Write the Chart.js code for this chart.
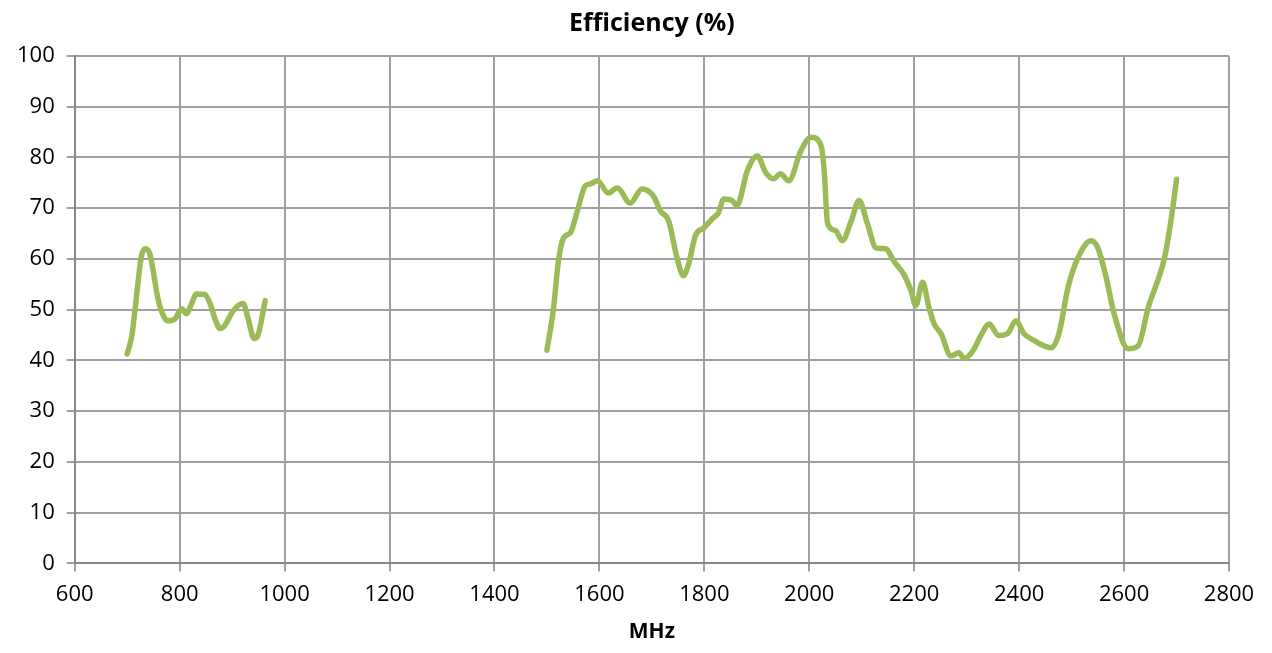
<!DOCTYPE html>
<html>
<head>
<meta charset="utf-8">
<script src="https://cdn.jsdelivr.net/npm/chart.js@4"></script>
<style>
  html, body { margin: 0; padding: 0; background: #fff; }
  #wrap { width: 1272px; height: 653px; }
</style>
</head>
<body>
<div id="wrap"><canvas id="myChart" width="1272" height="653"></canvas></div>
<script>
// frequency (MHz) and efficiency (%), null = gap between bands
var freqMHz = [
  700, 709, 717, 727, 735, 743, 749, 757, 765, 777, 791, 804, 813, 822, 832, 848, 858, 868, 877, 886, 902, 921, 930, 942, 949, 963,
  1200,
  1500, 1512, 1522, 1532, 1545, 1558, 1573, 1583, 1596, 1617, 1634, 1659, 1681, 1703, 1716, 1732, 1748, 1760, 1770, 1783, 1799,
  1815, 1827, 1837, 1853, 1862, 1882, 1901, 1917, 1932, 1945, 1961, 1984, 2003, 2022, 2028, 2035, 2050, 2063, 2080, 2095, 2111,
  2127, 2146, 2161, 2180, 2194, 2203, 2216, 2228, 2238, 2251, 2270, 2285, 2295, 2312, 2327, 2343, 2361, 2378, 2394, 2409, 2429,
  2447, 2461, 2476, 2493, 2512, 2537, 2550, 2566, 2581, 2608, 2627, 2646, 2677, 2690, 2700
];
var efficiency = [
  41.3, 45, 52, 60.5, 62, 61, 58, 53, 49.8, 47.8, 48.2, 50.2, 49.2, 51, 53.1, 53, 51.2, 48, 46.3, 46.9, 49.8, 51.2, 48.4, 44.3, 44.9, 51.8,
  null,
  42, 49.8, 59.6, 64.2, 65.2, 69.5, 74.4, 74.8, 75.4, 73, 74, 71, 73.8, 72.4, 69.5, 67.5, 60.2, 56.7, 59, 64.6, 66.1,
  67.9, 69.1, 71.8, 71.5, 70.5, 77.4, 80.3, 77, 75.8, 76.8, 75.4, 81.3, 84, 82.5, 78, 67, 65.6, 63.6, 67.5, 71.5, 66.9,
  62.2, 62, 59.6, 57, 53.7, 50.8, 55.4, 50.5, 47.2, 45.3, 40.9, 41.5, 40.4, 41.9, 44.9, 47.2, 44.9, 45.3, 47.8, 45.3, 43.9,
  42.9, 42.5, 45.3, 54.3, 60.2, 63.6, 62.2, 56.3, 49.2, 42.3, 42.9, 50.4, 60.2, 68, 75.7
];
var xMin = 600, xMax = 2800, xStep = 200;
var yMin = 0, yMax = 100, yStep = 10;

var points = [];
for (var i = 0; i < freqMHz.length; i++) {
  points.push({ x: freqMHz[i], y: efficiency[i] });
}

var font = 'Open Sans, "Noto Sans", sans-serif';

const ctx = document.getElementById('myChart').getContext('2d');
const myChart = new Chart(ctx, {
  type: 'line',
  data: {
    datasets: [{
      label: 'Efficiency',
      data: points,
      borderColor: '#9bbb59',
      borderWidth: 5.5,
      pointRadius: 0,
      fill: false,
      spanGaps: false,
      cubicInterpolationMode: 'monotone',
      borderCapStyle: 'round',
      borderJoinStyle: 'round'
    }]
  },
  options: {
    responsive: false,
    animation: false,
    layout: { padding: { left: 5, right: 43, top: 7, bottom: 4 } },
    plugins: {
      legend: { display: false },
      tooltip: { enabled: false },
      title: {
        display: true,
        text: 'Efficiency (%)',
        fullSize: false,
        color: '#000',
        font: { family: font, size: 25, weight: 'bold' },
        padding: { top: 2, bottom: 17 }
      }
    },
    scales: {
      x: {
        type: 'linear',
        min: xMin,
        max: xMax,
        ticks: {
          stepSize: xStep, color: '#000', font: { family: font, size: 22 }, padding: 10, maxRotation: 0,
          callback: function(v) { return String(v); }
        },
        grid: { color: '#a0a0a0', lineWidth: 2, tickLength: 8 },
        border: { color: '#888', width: 2 },
        title: { display: true, text: 'MHz', color: '#000', font: { family: font, size: 21, weight: 'bold' }, padding: { top: 2 } }
      },
      y: {
        min: yMin,
        max: yMax,
        ticks: { stepSize: yStep, color: '#000', font: { family: font, size: 22 }, padding: 12 },
        grid: { color: '#a0a0a0', lineWidth: 2, tickLength: 8 },
        border: { color: '#888', width: 2 }
      }
    }
  }
});
</script>
</body>
</html>
